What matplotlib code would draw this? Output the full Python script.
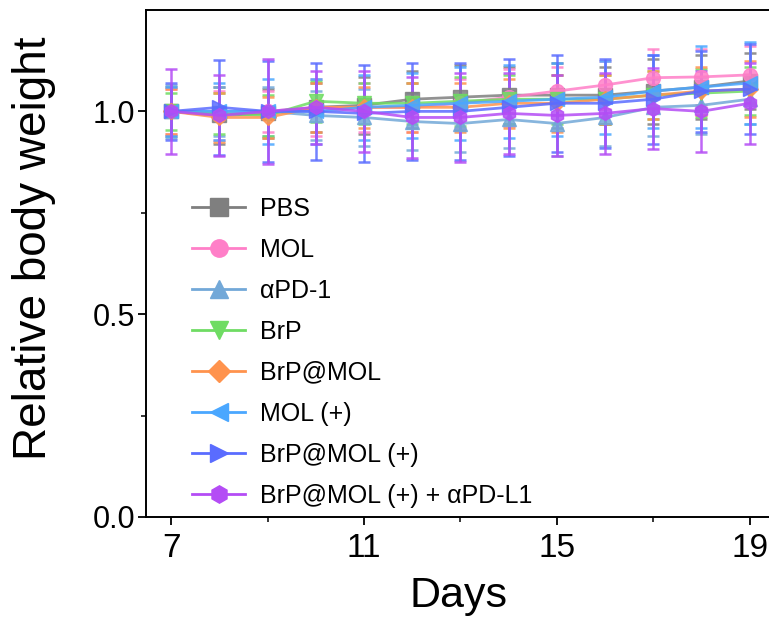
import matplotlib
matplotlib.use("Agg")
import matplotlib.pyplot as plt
from matplotlib.lines import Line2D

plt.rcParams['font.family'] = ['Liberation Sans', 'DejaVu Sans']

days = [7, 8, 9, 10, 11, 12, 13, 14, 15, 16, 17, 18, 19]

labels = ["PBS", "MOL", "αPD-1", "BrP", "BrP@MOL", "MOL (+)", "BrP@MOL (+)", "BrP@MOL (+) + αPD-L1"]

pbs      = [1.00, 0.990, 0.995, 1.010, 1.015, 1.030, 1.035, 1.040, 1.040, 1.040, 1.050, 1.060, 1.075]
mol      = [1.00, 0.990, 1.000, 1.010, 1.010, 1.010, 1.020, 1.035, 1.050, 1.065, 1.083, 1.085, 1.090]
apd1     = [1.00, 1.000, 1.000, 0.990, 0.985, 0.975, 0.970, 0.980, 0.970, 0.985, 1.010, 1.015, 1.030]
brp      = [1.00, 0.995, 0.990, 1.025, 1.020, 1.020, 1.025, 1.030, 1.030, 1.030, 1.040, 1.045, 1.050]
brpmol   = [1.00, 0.985, 0.985, 1.010, 1.010, 1.010, 1.010, 1.020, 1.020, 1.030, 1.040, 1.050, 1.055]
molp     = [1.00, 1.000, 1.000, 1.000, 1.010, 1.015, 1.020, 1.025, 1.030, 1.035, 1.050, 1.060, 1.070]
brpmolp  = [1.00, 1.010, 1.000, 1.000, 0.995, 1.000, 1.000, 1.010, 1.020, 1.020, 1.030, 1.050, 1.055]
combo    = [1.00, 0.990, 1.000, 1.010, 1.000, 0.985, 0.985, 0.995, 0.990, 0.995, 1.007, 1.000, 1.020]

pbs_err     = [0.060, 0.070, 0.060, 0.060, 0.070, 0.070, 0.080, 0.070, 0.080, 0.070, 0.080, 0.080, 0.070]
mol_err     = [0.055, 0.060, 0.050, 0.070, 0.060, 0.060, 0.060, 0.070, 0.060, 0.060, 0.070, 0.070, 0.070]
apd1_err    = [0.065, 0.060, 0.060, 0.060, 0.070, 0.070, 0.070, 0.070, 0.080, 0.070, 0.070, 0.070, 0.060]
brp_err     = [0.045, 0.050, 0.050, 0.050, 0.050, 0.050, 0.060, 0.060, 0.060, 0.060, 0.060, 0.060, 0.060]
brpmol_err  = [0.055, 0.060, 0.050, 0.060, 0.050, 0.060, 0.060, 0.060, 0.070, 0.060, 0.060, 0.060, 0.070]
molp_err    = [0.060, 0.070, 0.080, 0.080, 0.080, 0.080, 0.090, 0.090, 0.090, 0.090, 0.090, 0.100, 0.100]
brpmolp_err = [0.070, 0.117, 0.125, 0.120, 0.120, 0.120, 0.120, 0.120, 0.120, 0.110, 0.110, 0.100, 0.110]
combo_err   = [0.105, 0.100, 0.130, 0.090, 0.100, 0.100, 0.110, 0.100, 0.100, 0.100, 0.100, 0.100, 0.100]

series = [pbs, mol, apd1, brp, brpmol, molp, brpmolp, combo]
errors = [pbs_err, mol_err, apd1_err, brp_err, brpmol_err, molp_err, brpmolp_err, combo_err]
colors = ["#7f7f7f", "#ff7fc8", "#72a8d8", "#6fdc63", "#ff934d", "#4aa7ff", "#5a6cff", "#b44cf5"]
markers = ["s", "o", "^", "v", "D", "<", ">", "h"]

fig = plt.figure(figsize=(7.69, 6.25), dpi=100)
ax = fig.add_axes([0.19, 0.173, 0.813, 0.811])

handles = []
for y, e, c, m, lab in zip(series, errors, colors, markers, labels):
    ms = 10 if m != "D" else 8.5
    ax.errorbar(days, y, yerr=e, color=c, marker=m, markersize=ms,
                linewidth=2.0, elinewidth=1.8, capsize=4, capthick=1.8, alpha=0.85)
    handles.append(Line2D([], [], color=c, marker=m, markersize=ms + 2.5, linewidth=2.0, label=lab))

ax.set_xlim(6.48, 19.45)
ax.set_ylim(0, 1.25)
ax.set_xticks([7, 11, 15, 19])
ax.set_xticks([9, 13, 17], minor=True)
ax.set_yticks([0, 0.5, 1.0])
ax.set_yticklabels(["0.0", "0.5", "1.0"])
ax.set_yticks([0.25, 0.75], minor=True)

ax.tick_params(axis='both', which='major', direction='out', length=5.5, width=1.3,
               top=False, right=False, pad=5)
ax.tick_params(axis='x', which='major', labelsize=24, pad=6)
ax.tick_params(axis='y', which='major', labelsize=22, pad=2.5)
ax.tick_params(axis='both', which='minor', direction='out', length=3.5, width=1.1, top=False, right=False)
for s in ax.spines.values():
    s.set_linewidth(1.4)

ax.set_xlabel("Days", fontsize=31, labelpad=9)
ax.set_ylabel("Relative body weight", fontsize=33)
ax.yaxis.set_label_coords(-0.144, 0.53)

ax.legend(handles=handles, loc='upper left', bbox_to_anchor=(0.074, 0.632), frameon=False, fontsize=18,
          handlelength=2.1, handletextpad=0.6, labelspacing=0.68, borderpad=0, borderaxespad=0)

fig.savefig("out.png", dpi=100)
